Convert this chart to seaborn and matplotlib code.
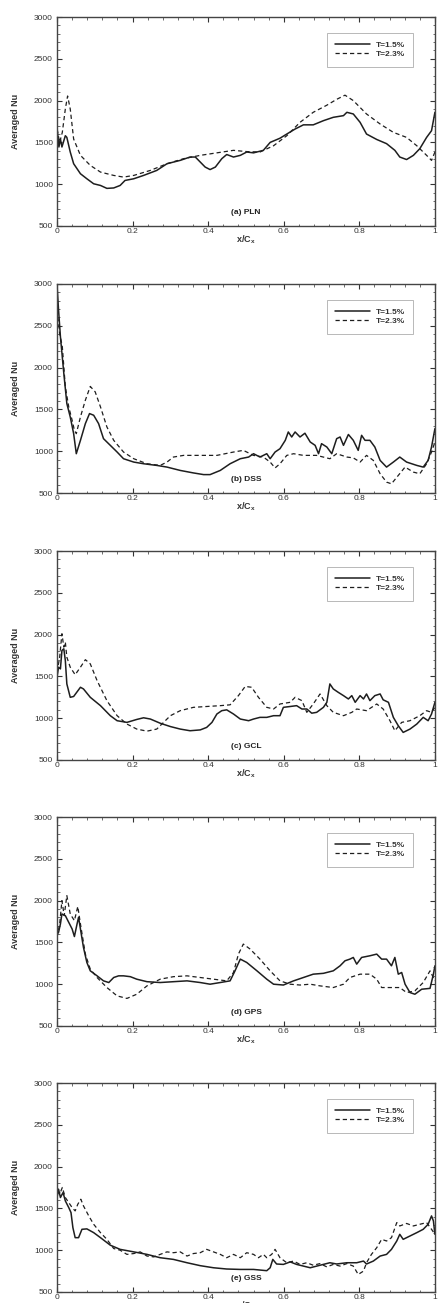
import matplotlib
matplotlib.use('Agg')
import matplotlib.pyplot as plt
from matplotlib.ticker import AutoMinorLocator
import seaborn as sns

# Averaged Nu along the chord, two turbulence intensities, five cases

# (a) PLN
pln_x_15 = [0.000, 0.005, 0.009, 0.013, 0.022, 0.026, 0.035, 0.044, 0.062, 0.079,
            0.097, 0.115, 0.132, 0.150, 0.167, 0.180, 0.203, 0.229, 0.264, 0.291,
            0.326, 0.352, 0.366, 0.379, 0.392, 0.405, 0.419, 0.436, 0.449, 0.467,
            0.485, 0.502, 0.520, 0.546, 0.564, 0.590, 0.608, 0.630, 0.652, 0.678,
            0.705, 0.731, 0.758, 0.767, 0.784, 0.802, 0.819, 0.846, 0.872, 0.894,
            0.907, 0.925, 0.943, 0.960, 0.978, 0.991, 1.000]
pln_nu_15 = [1680, 1445, 1540, 1445, 1580, 1560, 1385, 1245, 1125, 1065,
             1005, 985, 950, 955, 985, 1045, 1065, 1105, 1165, 1245,
             1285, 1325, 1325, 1265, 1205, 1175, 1205, 1305, 1355, 1325,
             1345, 1385, 1375, 1405, 1500, 1550, 1600, 1660, 1710, 1710,
             1760, 1800, 1820, 1860, 1840, 1740, 1600, 1535, 1485, 1405,
             1325, 1295, 1345, 1425, 1560, 1640, 1860]
pln_x_23 = [0.000, 0.007, 0.014, 0.022, 0.028, 0.035, 0.044, 0.062, 0.088, 0.115,
            0.150, 0.176, 0.203, 0.247, 0.291, 0.335, 0.379, 0.423, 0.467, 0.502,
            0.537, 0.573, 0.608, 0.643, 0.678, 0.714, 0.740, 0.762, 0.784, 0.819,
            0.855, 0.890, 0.925, 0.952, 0.978, 0.991, 1.000]
pln_nu_23 = [1660, 1500, 1620, 1900, 2055, 1900, 1540, 1345, 1225, 1145,
             1105, 1085, 1105, 1165, 1245, 1305, 1345, 1375, 1405, 1390,
             1385, 1460, 1580, 1740, 1860, 1945, 2015, 2065, 2000, 1840,
             1720, 1620, 1560, 1460, 1345, 1285, 1385]

# (b) DSS
dss_x_15 = [0.000, 0.004, 0.009, 0.018, 0.026, 0.035, 0.044, 0.051, 0.062, 0.075,
            0.086, 0.097, 0.110, 0.123, 0.141, 0.159, 0.176, 0.203, 0.229, 0.264,
            0.291, 0.326, 0.361, 0.388, 0.405, 0.432, 0.458, 0.485, 0.507, 0.520,
            0.537, 0.555, 0.564, 0.577, 0.590, 0.604, 0.612, 0.621, 0.630, 0.643,
            0.656, 0.670, 0.683, 0.692, 0.700, 0.714, 0.727, 0.740, 0.749, 0.758,
            0.771, 0.784, 0.797, 0.806, 0.815, 0.828, 0.841, 0.855, 0.872, 0.890,
            0.907, 0.925, 0.952, 0.969, 0.982, 0.991, 1.000]
dss_nu_15 = [2990, 2690, 2370, 1930, 1570, 1410, 1210, 970, 1130, 1330,
             1450, 1430, 1330, 1150, 1070, 990, 910, 870, 850, 830,
             810, 770, 740, 720, 720, 770, 850, 910, 930, 970,
             930, 970, 910, 990, 1030, 1130, 1230, 1170, 1230, 1170,
             1215, 1110, 1070, 970, 1090, 1050, 970, 1150, 1170, 1070,
             1200, 1130, 1010, 1190, 1130, 1130, 1050, 890, 810, 870,
             930, 870, 830, 810, 890, 1050, 1270]
dss_x_23 = [0.000, 0.007, 0.014, 0.022, 0.031, 0.040, 0.046, 0.051, 0.062, 0.075,
            0.088, 0.101, 0.115, 0.132, 0.150, 0.176, 0.203, 0.238, 0.273, 0.291,
            0.308, 0.335, 0.379, 0.423, 0.467, 0.493, 0.520, 0.546, 0.564, 0.577,
            0.590, 0.608, 0.626, 0.652, 0.687, 0.722, 0.740, 0.767, 0.784, 0.802,
            0.819, 0.837, 0.855, 0.872, 0.885, 0.903, 0.921, 0.943, 0.960, 0.978,
            0.991, 1.000]
dss_nu_23 = [2690, 2410, 2250, 1770, 1530, 1370, 1250, 1210, 1410, 1610,
             1775, 1710, 1530, 1290, 1130, 990, 910, 850, 830, 870,
             930, 950, 950, 950, 990, 1010, 950, 930, 870, 800,
             850, 950, 970, 950, 950, 910, 970, 930, 920, 870,
             950, 890, 730, 630, 610, 710, 810, 750, 730, 850,
             990, 1110]

# (c) GCL
gcl_x_15 = [0.000, 0.004, 0.009, 0.013, 0.018, 0.022, 0.026, 0.035, 0.044, 0.062,
            0.070, 0.088, 0.115, 0.141, 0.159, 0.185, 0.211, 0.229, 0.247, 0.273,
            0.300, 0.326, 0.352, 0.379, 0.396, 0.410, 0.423, 0.436, 0.449, 0.467,
            0.485, 0.507, 0.520, 0.537, 0.555, 0.573, 0.590, 0.599, 0.617, 0.634,
            0.648, 0.661, 0.674, 0.687, 0.705, 0.714, 0.722, 0.731, 0.744, 0.758,
            0.771, 0.780, 0.789, 0.802, 0.811, 0.819, 0.828, 0.841, 0.855, 0.863,
            0.877, 0.890, 0.903, 0.916, 0.934, 0.952, 0.969, 0.982, 0.991, 1.000]
gcl_nu_15 = [1490, 1610, 1590, 1810, 1830, 1690, 1410, 1250, 1260, 1370,
             1350, 1250, 1150, 1030, 970, 950, 985, 1005, 990, 940,
             900, 870, 850, 860, 890, 950, 1050, 1090, 1100, 1050,
             990, 970, 990, 1010, 1010, 1030, 1030, 1130, 1140, 1150,
             1110, 1110, 1060, 1070, 1130, 1190, 1410, 1350, 1310, 1270,
             1230, 1270, 1190, 1270, 1230, 1290, 1210, 1270, 1290, 1220,
             1190, 1010, 910, 830, 870, 930, 1010, 970, 1050, 1190]
gcl_x_23 = [0.000, 0.007, 0.013, 0.018, 0.022, 0.026, 0.035, 0.048, 0.062, 0.075,
            0.088, 0.106, 0.132, 0.159, 0.185, 0.211, 0.238, 0.264, 0.282, 0.300,
            0.326, 0.361, 0.396, 0.432, 0.458, 0.480, 0.498, 0.515, 0.533, 0.555,
            0.573, 0.590, 0.617, 0.630, 0.648, 0.661, 0.678, 0.696, 0.714, 0.731,
            0.758, 0.780, 0.793, 0.819, 0.846, 0.863, 0.881, 0.894, 0.912, 0.934,
            0.960, 0.978, 0.991, 1.000]
gcl_nu_23 = [1550, 1730, 2010, 1850, 1910, 1730, 1610, 1520, 1610, 1700,
             1650, 1450, 1210, 1030, 930, 870, 845, 870, 950, 1030,
             1090, 1130, 1140, 1150, 1160, 1270, 1380, 1370, 1250, 1130,
             1110, 1170, 1190, 1250, 1210, 1070, 1170, 1290, 1150, 1070,
             1030, 1070, 1110, 1090, 1170, 1110, 970, 850, 950, 970,
             1030, 1090, 1070, 1130]

# (d) GPS
gps_x_15 = [0.000, 0.004, 0.009, 0.013, 0.022, 0.031, 0.040, 0.046, 0.053, 0.057,
            0.062, 0.070, 0.079, 0.088, 0.106, 0.123, 0.137, 0.150, 0.163, 0.176,
            0.194, 0.211, 0.238, 0.273, 0.308, 0.344, 0.379, 0.405, 0.432, 0.458,
            0.471, 0.485, 0.502, 0.529, 0.555, 0.573, 0.599, 0.626, 0.652, 0.678,
            0.705, 0.731, 0.749, 0.762, 0.775, 0.784, 0.793, 0.806, 0.828, 0.846,
            0.859, 0.872, 0.885, 0.894, 0.903, 0.912, 0.921, 0.934, 0.947, 0.965,
            0.987, 0.996, 1.000]
gps_nu_15 = [1600, 1620, 1720, 1840, 1820, 1740, 1660, 1570, 1720, 1800,
             1660, 1440, 1260, 1160, 1100, 1040, 1020, 1080, 1100, 1100,
             1090, 1060, 1030, 1020, 1030, 1040, 1020, 1000, 1020, 1040,
             1160, 1300, 1260, 1160, 1060, 1000, 990, 1040, 1080, 1120,
             1130, 1160, 1220, 1280, 1300, 1320, 1240, 1320, 1340, 1360,
             1300, 1300, 1220, 1320, 1120, 1140, 1000, 900, 880, 940,
             950, 1120, 1220]
gps_x_23 = [0.000, 0.007, 0.013, 0.019, 0.026, 0.035, 0.046, 0.055, 0.062, 0.075,
            0.088, 0.106, 0.132, 0.159, 0.185, 0.211, 0.238, 0.273, 0.308, 0.344,
            0.379, 0.414, 0.449, 0.467, 0.480, 0.493, 0.511, 0.537, 0.564, 0.590,
            0.617, 0.643, 0.670, 0.696, 0.731, 0.758, 0.775, 0.802, 0.828, 0.846,
            0.859, 0.881, 0.907, 0.925, 0.947, 0.969, 0.987, 1.000]
gps_nu_23 = [1560, 1720, 2000, 1820, 2060, 1840, 1760, 1930, 1720, 1360,
             1180, 1080, 960, 860, 830, 880, 980, 1060, 1090, 1100,
             1080, 1060, 1040, 1140, 1360, 1480, 1420, 1300, 1160, 1040,
             1000, 990, 1000, 980, 960, 1000, 1080, 1120, 1120, 1060,
             960, 960, 960, 900, 920, 1020, 1160, 1040]

# (e) GSS
gss_x_15 = [0.000, 0.004, 0.009, 0.016, 0.022, 0.031, 0.037, 0.042, 0.048, 0.057,
            0.066, 0.079, 0.097, 0.115, 0.141, 0.167, 0.203, 0.238, 0.273, 0.308,
            0.344, 0.379, 0.414, 0.449, 0.485, 0.520, 0.555, 0.564, 0.571, 0.581,
            0.599, 0.617, 0.634, 0.652, 0.670, 0.696, 0.722, 0.740, 0.767, 0.793,
            0.811, 0.819, 0.837, 0.855, 0.872, 0.885, 0.899, 0.907, 0.916, 0.934,
            0.952, 0.969, 0.982, 0.991, 0.996, 1.000]
gss_nu_15 = [1630, 1730, 1630, 1690, 1590, 1510, 1450, 1270, 1150, 1150,
             1250, 1255, 1210, 1150, 1060, 1010, 980, 950, 910, 890,
             850, 815, 790, 775, 770, 770, 755, 790, 890, 835,
             830, 860, 830, 810, 790, 820, 850, 835, 850, 850,
             870, 835, 870, 930, 950, 1010, 1110, 1190, 1130, 1170,
             1210, 1250, 1310, 1410, 1350, 1190]
gss_x_23 = [0.000, 0.007, 0.014, 0.022, 0.031, 0.040, 0.048, 0.055, 0.063, 0.070,
            0.084, 0.097, 0.115, 0.132, 0.150, 0.167, 0.185, 0.203, 0.220, 0.238,
            0.256, 0.273, 0.291, 0.308, 0.326, 0.344, 0.361, 0.379, 0.396, 0.414,
            0.432, 0.449, 0.467, 0.485, 0.502, 0.520, 0.533, 0.546, 0.555, 0.568,
            0.577, 0.590, 0.608, 0.626, 0.643, 0.661, 0.678, 0.696, 0.714, 0.731,
            0.749, 0.767, 0.784, 0.797, 0.811, 0.819, 0.832, 0.846, 0.859, 0.872,
            0.885, 0.899, 0.907, 0.925, 0.943, 0.960, 0.978, 0.991, 1.000]
gss_nu_23 = [1710, 1670, 1750, 1630, 1570, 1510, 1470, 1550, 1610, 1530,
             1410, 1310, 1210, 1130, 1020, 1000, 950, 960, 980, 930,
             920, 950, 980, 970, 980, 930, 960, 970, 1010, 980,
             950, 910, 950, 910, 970, 950, 910, 950, 910, 950,
             1010, 910, 850, 870, 830, 850, 820, 840, 800, 830,
             810, 840, 810, 710, 750, 850, 950, 1030, 1130, 1110,
             1150, 1330, 1290, 1320, 1290, 1310, 1330, 1250, 1190]

panel_titles = ['(a) PLN', '(b) DSS', '(c) GCL', '(d) GPS', '(e) GSS']
series_labels = ['T=1.5%', 'T=2.3%']
x_ticks = [0, 0.2, 0.4, 0.6, 0.8, 1]
x_tick_labels = ['0', '0.2', '0.4', '0.6', '0.8', '1']
y_ticks = [500, 1000, 1500, 2000, 2500, 3000]

panels = [
    (pln_x_15, pln_nu_15, pln_x_23, pln_nu_23),
    (dss_x_15, dss_nu_15, dss_x_23, dss_nu_23),
    (gcl_x_15, gcl_nu_15, gcl_x_23, gcl_nu_23),
    (gps_x_15, gps_nu_15, gps_x_23, gps_nu_23),
    (gss_x_15, gss_nu_15, gss_x_23, gss_nu_23),
]

sns.set_style('ticks')
plt.rcParams['font.family'] = ['Liberation Sans', 'DejaVu Sans']
plt.rcParams['mathtext.default'] = 'regular'

fig = plt.figure(figsize=(4.42, 13.03), dpi=100)

# axes tops in pixels
tops_px = [17, 284, 551, 817, 1083]
ax_h_px = 209
line_col = '#1e1e1e'
txt_col = '#333333'

for i, (x15, nu15, x23, nu23) in enumerate(panels):
    bottom = 1 - (tops_px[i] + ax_h_px) / 1303
    ax = fig.add_axes([0.129, bottom, 0.855, ax_h_px / 1303])

    sns.lineplot(x=x15, y=nu15, ax=ax, color=line_col, linewidth=1.1,
                 estimator=None, label=series_labels[0])
    sns.lineplot(x=x23, y=nu23, ax=ax, color=line_col, linewidth=0.9,
                 linestyle=(0, (3.4, 2.4)), estimator=None, label=series_labels[1])

    ax.set_xlim(0, 1)
    ax.set_ylim(500, 3000)
    ax.set_xticks(x_ticks)
    ax.set_xticklabels(x_tick_labels)
    ax.set_yticks(y_ticks)
    ax.xaxis.set_minor_locator(AutoMinorLocator(5))
    ax.yaxis.set_minor_locator(AutoMinorLocator(5))
    ax.tick_params(which='both', direction='in', top=True, right=True, colors=txt_col)
    ax.tick_params(which='major', length=3.6, width=0.8, labelsize=6)
    ax.tick_params(which='minor', length=1.8, width=0.5)
    ax.tick_params(axis='x', which='major', pad=1.5)
    ax.tick_params(axis='y', which='major', pad=3)
    for sp in ax.spines.values():
        sp.set_color('#444444')
        sp.set_linewidth(1.0)

    ax.set_ylabel('Averaged Nu', fontsize=6.5, fontweight='bold', color=txt_col, labelpad=10)
    ax.set_xlabel('x/C$_x$', fontsize=6.5, fontweight='bold', color=txt_col, labelpad=-1)

    ax.text(0.5, 0.065, panel_titles[i], transform=ax.transAxes, ha='center', va='center',
            fontsize=6, fontweight='bold', color='#222222')

    leg = ax.legend(loc='upper right', bbox_to_anchor=(0.942, 0.925), borderaxespad=0,
                    fontsize=6, frameon=True, fancybox=False, edgecolor='#999999',
                    handlelength=4.2, handletextpad=0.6, borderpad=1.0, labelspacing=0.2)
    leg.get_frame().set_linewidth(0.6)
    for t in leg.get_texts():
        t.set_fontweight('bold')
        t.set_color(txt_col)

fig.savefig('out.png', dpi=100)
